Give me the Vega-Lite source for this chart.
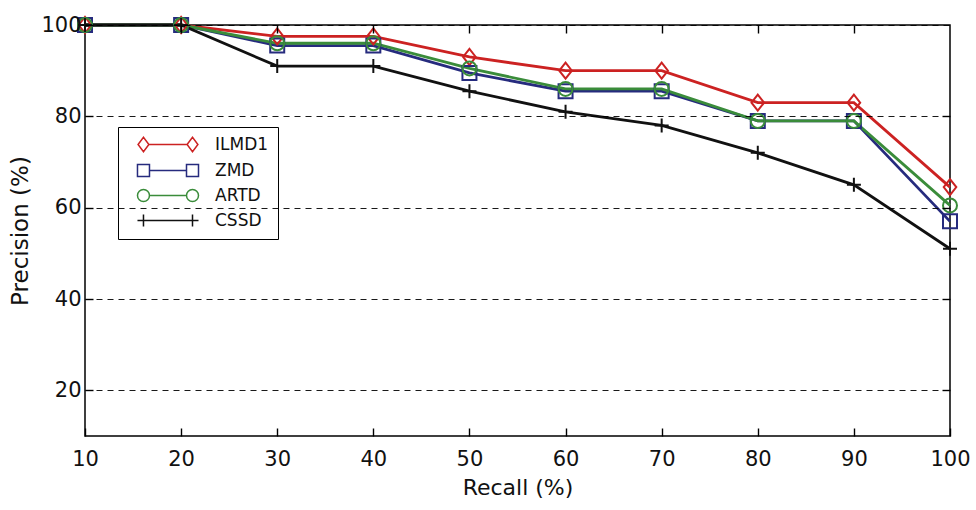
{
  "$schema": "https://vega.github.io/schema/vega-lite/v6.json",
  "width": 865,
  "height": 411,
  "autosize": {"type": "none"},
  "padding": {"left": 85, "top": 25, "right": 26, "bottom": 74},
  "background": "white",
  "config": {
    "view": {"stroke": "black", "strokeWidth": 1.5},
    "font": "DejaVu Sans",
    "axis": {"labelFont": "DejaVu Sans", "titleFont": "DejaVu Sans", "labelColor": "#111", "titleColor": "#111", "titleFontWeight": "normal", "domainColor": "black", "tickColor": "black", "ticks": true, "tickOpacity": 1}
  },
  "data": {
    "values": [
      {"recall": 10, "precision": 100, "method": "ILMD1"},
      {"recall": 20, "precision": 100, "method": "ILMD1"},
      {"recall": 30, "precision": 97.5, "method": "ILMD1"},
      {"recall": 40, "precision": 97.5, "method": "ILMD1"},
      {"recall": 50, "precision": 93, "method": "ILMD1"},
      {"recall": 60, "precision": 90, "method": "ILMD1"},
      {"recall": 70, "precision": 90, "method": "ILMD1"},
      {"recall": 80, "precision": 83, "method": "ILMD1"},
      {"recall": 90, "precision": 83, "method": "ILMD1"},
      {"recall": 100, "precision": 64.5, "method": "ILMD1"},
      {"recall": 10, "precision": 100, "method": "ZMD"},
      {"recall": 20, "precision": 100, "method": "ZMD"},
      {"recall": 30, "precision": 95.5, "method": "ZMD"},
      {"recall": 40, "precision": 95.5, "method": "ZMD"},
      {"recall": 50, "precision": 89.5, "method": "ZMD"},
      {"recall": 60, "precision": 85.5, "method": "ZMD"},
      {"recall": 70, "precision": 85.5, "method": "ZMD"},
      {"recall": 80, "precision": 79, "method": "ZMD"},
      {"recall": 90, "precision": 79, "method": "ZMD"},
      {"recall": 100, "precision": 57, "method": "ZMD"},
      {"recall": 10, "precision": 100, "method": "ARTD"},
      {"recall": 20, "precision": 100, "method": "ARTD"},
      {"recall": 30, "precision": 96, "method": "ARTD"},
      {"recall": 40, "precision": 96, "method": "ARTD"},
      {"recall": 50, "precision": 90.5, "method": "ARTD"},
      {"recall": 60, "precision": 86, "method": "ARTD"},
      {"recall": 70, "precision": 86, "method": "ARTD"},
      {"recall": 80, "precision": 79, "method": "ARTD"},
      {"recall": 90, "precision": 79, "method": "ARTD"},
      {"recall": 100, "precision": 60.5, "method": "ARTD"},
      {"recall": 10, "precision": 100, "method": "CSSD"},
      {"recall": 20, "precision": 100, "method": "CSSD"},
      {"recall": 30, "precision": 91, "method": "CSSD"},
      {"recall": 40, "precision": 91, "method": "CSSD"},
      {"recall": 50, "precision": 85.5, "method": "CSSD"},
      {"recall": 60, "precision": 81, "method": "CSSD"},
      {"recall": 70, "precision": 78, "method": "CSSD"},
      {"recall": 80, "precision": 72, "method": "CSSD"},
      {"recall": 90, "precision": 65, "method": "CSSD"},
      {"recall": 100, "precision": 51, "method": "CSSD"}
    ]
  },
  "encoding": {
    "color": {"field": "method", "type": "nominal", "scale": {"domain": ["ILMD1", "ZMD", "ARTD", "CSSD"], "range": ["#cc2222", "#262b7e", "#3a8c3a", "#111111"]}}
  },
  "layer": [
    {
      "mark": {"type": "line", "strokeWidth": 2.8},
      "encoding": {
        "x": {"field": "recall", "type": "quantitative", "scale": {"domain": [10, 100], "nice": false, "zero": false}, "axis": {"orient": "bottom", "values": [10, 20, 30, 40, 50, 60, 70, 80, 90, 100], "title": "Recall (%)", "titleFontSize": 22, "titlePadding": 8, "labelFontSize": 21, "labelPadding": 20, "ticks": true, "tickSize": -8, "tickWidth": 1.4, "tickColor": "black", "grid": false, "labelFlush": false, "domain": false, "zindex": 2}},
        "y": {"field": "precision", "type": "quantitative", "scale": {"domain": [10, 100], "nice": false, "zero": false}, "axis": {"orient": "left", "values": [20, 40, 60, 80, 100], "title": "Precision (%)", "titleFontSize": 23, "titlePadding": 8, "labelFontSize": 21, "labelPadding": 12, "ticks": true, "tickSize": -8, "tickWidth": 1.4, "tickColor": "black", "grid": true, "gridColor": "black", "gridDash": [6, 5], "gridWidth": 1.2, "gridOpacity": 0.9, "labelFlush": false, "domain": false, "zindex": 2}},
        "color": {"field": "method", "type": "nominal", "legend": null}
      }
    },
    {
      "mark": {"type": "point", "filled": false, "strokeWidth": 2, "opacity": 1},
      "encoding": {
        "x": {"field": "recall", "type": "quantitative", "axis": {"orient": "top", "values": [20, 30, 40, 50, 60, 70, 80, 90], "labels": false, "title": null, "ticks": true, "tickSize": -8, "tickWidth": 1.4, "tickColor": "black", "grid": false, "domain": false, "zindex": 2}},
        "y": {"field": "precision", "type": "quantitative", "axis": {"orient": "right", "values": [20, 40, 60, 80], "labels": false, "title": null, "ticks": true, "tickSize": -8, "tickWidth": 1.4, "tickColor": "black", "grid": false, "domain": false, "zindex": 2}},
        "color": {"field": "method", "type": "nominal", "legend": null},
        "shape": {"field": "method", "type": "nominal", "legend": null, "scale": {"domain": ["ILMD1", "ZMD", "ARTD", "CSSD"], "range": ["M-0.9,0L0,-1.15L0.9,0L0,1.15Z", "M-1,-1L1,-1L1,1L-1,1Z", "M-1,0A1,1 0 1,0 1,0A1,1 0 1,0 -1,0Z", "M-1,0L1,0M0,-1L0,1"]}},
        "size": {"value": 196}
      }
    },
    {
      "transform": [{"filter": "datum.recall > 1000"}],
      "mark": {"type": "point", "filled": false, "strokeWidth": 1.5},
      "encoding": {
        "x": {"field": "recall", "type": "quantitative", "axis": null},
        "y": {"field": "precision", "type": "quantitative", "axis": null},
        "color": {"field": "method", "type": "nominal", "legend": {"title": null, "orient": "none", "legendX": 33, "legendY": 102, "strokeColor": "black", "fillColor": "white", "padding": 9, "rowPadding": 6, "labelFontSize": 17, "labelFont": "DejaVu Sans", "labelColor": "#111", "labelOffset": 71, "symbolSize": 144, "symbolStrokeWidth": 1.5, "symbolOpacity": 1}},
        "shape": {"field": "method", "type": "nominal", "legend": {"title": null, "orient": "none", "legendX": 33, "legendY": 102, "strokeColor": "black", "fillColor": "white", "padding": 9, "rowPadding": 6, "labelFontSize": 17, "labelFont": "DejaVu Sans", "labelColor": "#111", "labelOffset": 71, "symbolSize": 144, "symbolStrokeWidth": 1.5, "symbolOpacity": 1}, "scale": {"domain": ["ILMD1", "ZMD", "ARTD", "CSSD"], "range": [
          "M0.43,0L1.33,-1.2L2.23,0L1.33,1.2ZM2.23,0L8.6,0M8.6,0L9.5,-1.2L10.4,0L9.5,1.2Z",
          "M0.33,-1L2.33,-1L2.33,1L0.33,1ZM2.33,0L8.5,0M8.5,-1L10.5,-1L10.5,1L8.5,1Z",
          "M0.33,0A1,1 0 1,0 2.33,0A1,1 0 1,0 0.33,0ZM2.33,0L8.5,0M8.5,0A1,1 0 1,0 10.5,0A1,1 0 1,0 8.5,0Z",
          "M0.33,0L10.5,0M1.33,-1L1.33,1M9.5,-1L9.5,1"
        ]}},
        "size": {"value": 144}
      }
    }
  ],
  "resolve": {"scale": {"shape": "independent"}, "axis": {"x": "independent", "y": "independent"}, "legend": {"color": "independent", "shape": "independent"}}
}
